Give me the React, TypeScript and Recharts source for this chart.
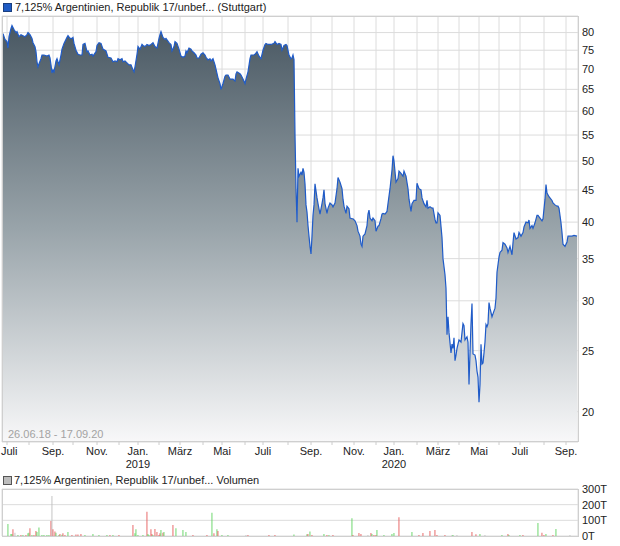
import React from "react";
import { ComposedChart, Area, XAxis, YAxis, CartesianGrid, BarChart, Bar, Cell } from "recharts";

// trading-day index (0 = 26.06.18) and closing price
const dayIdx = [
  1, 3, 5, 6, 7, 9, 10, 12, 14, 15, 17, 19, 21, 23, 25, 26, 28, 30, 31, 33, 34, 35, 36, 37, 39, 40, 42, 45, 47, 48,
  49, 50, 51, 52, 54, 55, 57, 59, 60, 62, 65, 66, 68, 70, 71, 72, 74, 76, 78, 80, 81, 83, 85, 86, 88, 90, 91, 94, 95, 97,
  99, 101, 104, 106, 109, 111, 113, 115, 116, 118, 120, 121, 123, 125, 127, 129, 131, 132, 133, 135, 136, 138, 140, 141, 143, 145, 147, 149, 151, 153,
  155, 157, 158, 159, 161, 163, 164, 167, 169, 170, 172, 173, 175, 177, 179, 181, 183, 184, 185, 187, 189, 190, 192, 194, 195, 197, 199, 201, 203, 204,
  206, 208, 209, 211, 213, 214, 216, 218, 219, 221, 223, 224, 226, 228, 229, 231, 233, 234, 235, 238, 239, 241, 243, 244, 246, 248, 249, 252, 253, 255,
  257, 259, 261, 263, 264, 266, 268, 269, 272, 273, 275, 277, 279, 280, 282, 284, 285, 287, 289, 290, 291, 292, 293, 294, 295, 296, 297, 299, 300, 301,
  302, 303, 304, 305, 306, 307, 308, 309, 310, 311, 312, 313, 315, 316, 318, 319, 320, 321, 322, 323, 325, 326, 328, 330, 331, 333, 335, 336, 338, 340,
  341, 342, 344, 345, 347, 348, 350, 351, 353, 355, 356, 358, 359, 360, 361, 363, 365, 366, 367, 368, 370, 371, 373, 374, 376, 377, 379, 380, 381, 383,
  385, 386, 388, 390, 391, 392, 394, 396, 397, 399, 401, 402, 404, 406, 407, 409, 410, 412, 414, 415, 417, 419, 420, 422, 424, 425, 426, 428, 430, 431,
  433, 434, 435, 436, 438, 440, 441, 443, 444, 445, 446, 447, 449, 450, 451, 452, 453, 454, 455, 456, 457, 459, 460, 461, 462, 463, 465, 466, 467, 468,
  469, 470, 471, 473, 474, 475, 476, 477, 478, 479, 480, 481, 482, 483, 484, 485, 486, 487, 488, 490, 491, 493, 494, 495, 497, 498, 500, 501, 503, 505,
  506, 508, 510, 511, 512, 514, 516, 517, 519, 521, 522, 524, 526, 527, 528, 530, 531, 533, 535, 536, 538, 540, 541, 543, 544, 545, 547, 550, 551, 553,
  555, 556, 557, 559, 560, 561, 563, 565, 566, 570, 572, 575,
];
const price = [
  79.7, 78, 77.4, 75.6, 78.8, 81.2, 82.1, 80.9, 80, 80.3, 78.8, 79.4, 79.1, 78.8, 79.4, 80, 79.4, 78.3, 77.1, 76, 74.6, 71.9, 70.6, 71.4, 72.7, 73.7, 73.7, 73.4, 73.7, 72.9,
  71.1, 69, 69.8, 69.3, 72.1, 72.7, 71.1, 73.7, 75.3, 76.9, 78.6, 79.1, 78.3, 78.3, 78.6, 76.9, 75, 73.9, 73.7, 73.7, 76.6, 76.9, 74.6, 74.8, 73.7, 73.9, 73.4, 74.6, 76.3, 77.1,
  76.9, 75.3, 74.8, 73.1, 72.9, 71.9, 72.1, 71.9, 72.7, 72.4, 72.7, 71.9, 72.1, 71.6, 71.1, 71.1, 69.8, 69.3, 70.6, 73.9, 76, 75.3, 76.6, 76.3, 76, 76.6, 76.3, 76.6, 77.1, 76,
  75.6, 78.3, 79.4, 80.3, 78.6, 78, 78.3, 77.1, 76.6, 74.8, 76, 77.4, 76.9, 75.3, 73.4, 73.1, 73.4, 74.8, 74.3, 75.6, 75.3, 74.8, 74.3, 73.7, 72.9, 72.9, 73.9, 74.3, 73.7, 73.1,
  72.4, 72.7, 72.1, 72.7, 71.1, 70, 67.8, 66.4, 65, 66.4, 68.2, 68.5, 68.5, 67.5, 67.5, 67.5, 67, 68.8, 69.3, 68.8, 68.5, 67.5, 66.4, 67.5, 69.3, 72.7, 73.7, 73.7, 73.9, 74.6,
  73.4, 72.7, 75, 76.6, 76.9, 76.6, 76.6, 76.6, 76.9, 77.4, 76.6, 76.9, 76.6, 75, 76.3, 76.6, 76.3, 73.7, 72.7, 72.9, 73.7, 72.5, 55, 45.3, 40, 48.7, 47.3, 48, 47.5, 48.7,
  48, 46, 42.6, 41.5, 39.5, 38, 36.6, 35.6, 38, 41, 42.6, 46, 43.7, 42.8, 41.2, 42, 42.8, 43.7, 45, 42.8, 41.3, 42.1, 42.9, 42.6, 42.3, 42.9, 45.2, 47.1, 46.3, 45.2,
  43.5, 42.4, 41.3, 42.4, 42, 40.6, 40.5, 40.5, 40.2, 39.5, 38.7, 38, 36.9, 36.6, 38, 38.3, 39.5, 41.2, 41.8, 40.6, 40.2, 40.6, 40.2, 38.7, 39.4, 39.5, 40.5, 41.2, 41.3, 41.2,
  41.6, 42.8, 45.2, 48.4, 51, 50, 46.3, 46.9, 48.2, 47.8, 47.3, 48.2, 47.3, 45.2, 43.5, 41.6, 42.8, 43.3, 43.3, 46.1, 45.2, 45, 43.7, 42.8, 42.3, 43.3, 42.1, 42.3, 42.1, 42.1,
  40.4, 39.9, 39.9, 41.4, 41, 37.8, 35, 33, 31.4, 26.5, 28.3, 26.7, 24.8, 25.6, 25.2, 26.2, 24.1, 24.6, 25.2, 25.6, 26, 25.8, 26.7, 27.6, 27.4, 26, 26.3, 25.8, 22.1, 24.8,
  27.6, 29.7, 24.7, 24.6, 24.1, 23.2, 22.7, 20.7, 22.1, 25.6, 23.8, 23.9, 24.8, 25.8, 27.5, 27.3, 27.6, 29.8, 29.2, 28.3, 28.6, 29.2, 30.3, 33.3, 35.2, 35.8, 36.1, 37.1, 36.9, 36.4,
  35.8, 36.6, 35.5, 37.1, 38.5, 37.6, 37.8, 38.5, 38, 38.5, 39.3, 40, 39.9, 40.3, 39.1, 39.5, 39.1, 39.9, 41, 41, 40.6, 40.2, 40.5, 43.5, 45.9, 44.5, 43.9, 43.3, 42.9, 42.6,
  42.4, 42.4, 42.1, 39.9, 38.5, 36.9, 36.6, 37.2, 38, 38, 38.1, 38,
];

// first trading day of each month
const monthDays = [5, 27, 51, 71, 95, 117, 136, 157, 178, 201, 220, 243, 261, 286, 309, 330, 352, 374, 392, 415, 436, 457, 477, 497, 518, 542, 564];
const monthLabels = ["Juli", "", "Sep.", "", "Nov.", "", "Jan.", "", "März", "", "Mai", "", "Juli", "", "Sep.", "", "Nov.", "", "Jan.", "", "März", "", "Mai", "", "Juli", "", "Sep."];
const yearLabels = ["", "", "", "", "", "", "2019", "", "", "", "", "", "", "", "", "", "", "", "2020", "", "", "", "", "", "", "", ""];
const priceTicks = [20, 25, 30, 35, 40, 45, 50, 55, 60, 65, 70, 75, 80];

// volume in thousands; side: g = up, r = down, n = unchanged
const volDay = [
  6, 9, 10, 11, 13, 16, 19, 21, 24, 26, 27, 28, 30, 32, 34, 35, 37, 40, 42, 45, 47, 49, 50, 51, 53, 54, 57, 58, 60, 61,
  63, 66, 70, 74, 76, 79, 83, 91, 97, 105, 108, 111, 117, 131, 133, 134, 136, 141, 145, 146, 147, 149, 150, 151, 153, 155, 157, 158, 159, 161,
  162, 171, 174, 181, 184, 191, 205, 210, 212, 215, 216, 220, 226, 244, 246, 267, 273, 292, 305, 306, 308, 310, 322, 325, 327, 331, 350, 351, 357, 359,
  366, 369, 370, 372, 374, 375, 382, 390, 392, 397, 410, 417, 421, 428, 433, 435, 443, 450, 451, 455, 470, 474, 478, 483, 500, 506, 507, 518, 521, 536,
  540, 542, 544, 551, 554, 568,
];
const volK = [
  77, 13, 13, 43, 21, 4, 6, 4, 6, 17, 21, 49, 6, 6, 32, 25, 55, 4, 3, 4, 4, 96, 255, 43, 28, 21, 4, 13, 8, 17,
  4, 25, 4, 9, 9, 13, 2, 13, 2, 2, 6, 2, 2, 70, 17, 43, 6, 4, 155, 13, 6, 43, 13, 6, 45, 25, 4, 17, 38, 21,
  25, 70, 49, 38, 25, 4, 2, 149, 17, 43, 32, 2, 2, 6, 2, 2, 1, 9, 11, 13, 28, 6, 13, 4, 6, 2, 113, 6, 19, 13,
  2, 19, 13, 6, 4, 38, 2, 13, 19, 119, 25, 4, 19, 32, 38, 4, 4, 4, 6, 2, 25, 11, 13, 2, 6, 13, 4, 6, 6, 83,
  21, 4, 13, 4, 45, 6,
];
const volSide =
  "gggrngrgrggrgrrggggggrnrrggrgr" +
  "rgrrrrggggrgrrggggrggrrgrrrrgr" +
  "grgggrrgrgrggnrrrggrgrgrgrgrrr" +
  "nrgrrggggrgrrrrrrngnrrgngrggrg" +
  "rrgrgn";

const priceData = dayIdx.map((d, i) => ({ d, p: price[i] }));
const volData = volDay.map((d, i) => ({ d, v: volK[i], s: volSide[i] }));
const sideColor: Record<string, string> = { g: "#5fd35f", r: "#e65a5a", n: "#bdbdbd" };

const font = "'Liberation Sans', Arial, sans-serif";

function MonthTick(props: any) {
  const { x, y, index } = props;
  // the first label would run past the left edge; pin it there
  const first = index === 0;
  return (
    <g>
      <text x={first ? 1 : x} y={y + 8} textAnchor={first ? "start" : "middle"} fontSize={11} fill="#222">
        {monthLabels[index]}
      </text>
      {yearLabels[index] ? (
        <text x={x} y={y + 21} textAnchor="middle" fontSize={11} fill="#222">
          {yearLabels[index]}
        </text>
      ) : null}
    </g>
  );
}

export default function App() {
  return (
    <div style={{ position: "absolute", left: 0, top: 0, width: 620, height: 546, background: "#fff", fontFamily: font, color: "#222" }}>
      <div style={{ position: "absolute", left: 3, top: 3, width: 7, height: 7, background: "#1f5bc4", border: "1px solid #1a3f80" }} />
      <div style={{ position: "absolute", left: 15, top: 1, fontSize: 11, lineHeight: "13px", whiteSpace: "nowrap" }}>
        7,125% Argentinien, Republik 17/unbef... (Stuttgart)
      </div>

      <div style={{ position: "absolute", left: 0, top: 0 }}>
        <ComposedChart width={620} height={470} data={priceData} margin={{ top: 16, right: 2, bottom: 0, left: 2 }}>
          <defs>
            <linearGradient id="priceFill" gradientUnits="userSpaceOnUse" x1="0" y1="16" x2="0" y2="442">
              <stop offset="0%" stopColor="#45545f" />
              <stop offset="50%" stopColor="#99a4aa" />
              <stop offset="100%" stopColor="#f8f8f9" />
            </linearGradient>
          </defs>
          <CartesianGrid stroke="#dcdcdc" />
          <XAxis
            dataKey="d"
            type="number"
            domain={[0, 576]}
            ticks={monthDays}
            interval={0}
            height={28}
            tickSize={3}
            tickLine={{ stroke: "#cccccc" }}
            axisLine={false}
            tick={<MonthTick />}
          />
          <YAxis
            orientation="right"
            scale="log"
            domain={[17.9, 85]}
            allowDataOverflow
            ticks={priceTicks}
            interval={0}
            width={40}
            tickLine={false}
            axisLine={false}
            tickSize={2}
            tickMargin={2}
            tick={{ fontSize: 11, fill: "#222" }}
          />
          <Area
            dataKey="p"
            type="linear"
            stroke="#1f5bc8"
            strokeWidth={1.2}
            fill="url(#priceFill)"
            fillOpacity={1}
            dot={false}
            activeDot={false}
            isAnimationActive={false}
          />
        </ComposedChart>
      </div>
      <div style={{ position: "absolute", left: 2, top: 16, width: 577, height: 426, border: "1px solid #cfcfcf", boxSizing: "border-box", pointerEvents: "none" }} />
      <div style={{ position: "absolute", left: 8, top: 428, fontSize: 11, lineHeight: "13px", color: "#a3a3a3", whiteSpace: "nowrap" }}>
        26.06.18 - 17.09.20
      </div>

      <div style={{ position: "absolute", left: 3, top: 476, width: 7, height: 7, background: "#bdbdbd", border: "1px solid #555" }} />
      <div style={{ position: "absolute", left: 14, top: 474, fontSize: 11, lineHeight: "13px", whiteSpace: "nowrap" }}>
        7,125% Argentinien, Republik 17/unbef... Volumen
      </div>
      <div style={{ position: "absolute", left: 0, top: 470 }}>
        <BarChart width={620} height={76} data={volData} margin={{ top: 19, right: 2, bottom: 0, left: 2 }}>
          <CartesianGrid stroke="#dcdcdc" />
          <XAxis dataKey="d" type="number" domain={[0, 576]} ticks={monthDays} interval={0} tick={false} tickLine={false} axisLine={false} height={10} />
          <YAxis
            orientation="right"
            domain={[0, 300]}
            ticks={[0, 100, 200, 300]}
            interval={0}
            width={40}
            tickLine={false}
            axisLine={false}
            tickSize={2}
            tickMargin={2}
            tick={{ fontSize: 11, fill: "#222" }}
            tickFormatter={(v) => `${v}T`}
          />
          <Bar dataKey="v" barSize={2} minPointSize={1} isAnimationActive={false}>
            {volData.map((e, i) => (
              <Cell key={i} fill={sideColor[e.s]} />
            ))}
          </Bar>
        </BarChart>
      </div>
      <div style={{ position: "absolute", left: 2, top: 489, width: 577, height: 48, border: "1px solid #cfcfcf", boxSizing: "border-box", pointerEvents: "none" }} />
    </div>
  );
}
